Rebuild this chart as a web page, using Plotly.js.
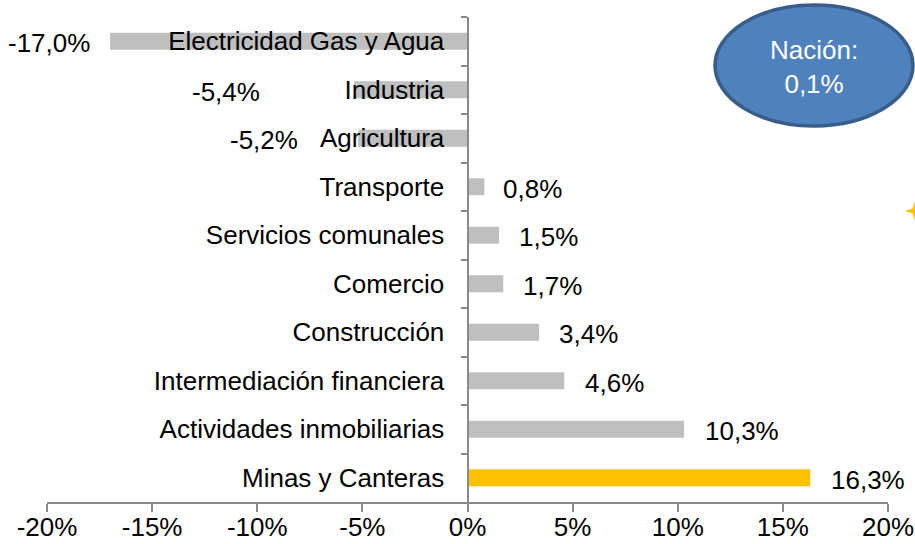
<!DOCTYPE html>
<html>
<head>
<meta charset="utf-8">
<script src="https://cdn.plot.ly/plotly-3.0.1.min.js"></script>
<style>html,body{margin:0;padding:0;background:#fff;}#chart{width:915px;height:544px;}</style>
</head>
<body>
<div id="chart"></div>
<script>
// Data (top to bottom as in the reference)
const categories = ['Electricidad Gas y Agua', 'Industria', 'Agricultura', 'Transporte',
  'Servicios comunales', 'Comercio', 'Construcción', 'Intermediación financiera',
  'Actividades inmobiliarias', 'Minas y Canteras'];
const values = [-17.0, -5.4, -5.2, 0.8, 1.5, 1.7, 3.4, 4.6, 10.3, 16.3];
const barColors = ['#BFBFBF', '#BFBFBF', '#BFBFBF', '#BFBFBF', '#BFBFBF', '#BFBFBF',
  '#BFBFBF', '#BFBFBF', '#BFBFBF', '#FFC000'];
const xTickVals = [-20, -15, -10, -5, 0, 5, 10, 15, 20];
const xTickText = ['-20%', '-15%', '-10%', '-5%', '0%', '5%', '10%', '15%', '20%'];
const nationLabel = 'Nación:';
const nationValue = 0.1;
// label offsets (px) for value labels; the negative ones were placed further left
const labelShift = [-18, -92, -58, 17, 18, 18, 18, 19, 19, 19];

const fmt = v => v.toFixed(1).replace('.', ',') + '%';
const FONT = 'Liberation Sans, Arial, sans-serif';
const FS = 26;

// plot area pixel geometry
const L = 47, R = 27, T = 17, B = 42, W = 915, H = 544;
const pw = W - L - R, ph = H - T - B;
const px = x => (x - L) / pw;
const py = y => (H - B - y) / ph;

const trace = {
  type: 'bar', orientation: 'h',
  x: values, y: categories,
  marker: {color: barColors},
  hoverinfo: 'skip', cliponaxis: false
};

const annotations = values.map((v, i) => ({
  x: v, y: categories[i], xref: 'x', yref: 'y',
  text: fmt(v), showarrow: false,
  xanchor: v < 0 ? 'right' : 'left',
  xshift: labelShift[i], yshift: -2,
  font: {family: FONT, size: FS, color: '#000'}
}));

// ellipse center
const ecx = 814, ecy = 67;
annotations.push({
  x: px(ecx), y: py(ecy), xref: 'paper', yref: 'paper',
  text: nationLabel + '<br>' + fmt(nationValue), showarrow: false,
  xanchor: 'center', yanchor: 'middle',
  font: {family: FONT, size: FS, color: '#FFFFFF'}
});

// small 4-point star decoration at right edge
const sx = 915, sy = 211, so = 10, si = 2.5;
const starPts = [[sx, sy - so], [sx + si, sy - si], [sx + so, sy], [sx + si, sy + si],
  [sx, sy + so], [sx - si, sy + si], [sx - so, sy], [sx - si, sy - si]];
const starPath = 'M' + starPts.map(p => px(p[0]).toFixed(5) + ',' + py(p[1]).toFixed(5)).join(' L') + ' Z';

const shapes = [
  {type: 'circle', xref: 'paper', yref: 'paper',
   x0: px(715), x1: px(913), y0: py(126), y1: py(5),
   fillcolor: '#4F81BD', line: {color: '#385D8A', width: 3.5}, layer: 'above'},
  {type: 'path', xref: 'paper', yref: 'paper', path: starPath,
   fillcolor: '#FFC000', line: {width: 0}, layer: 'above'}
];

const layout = {
  width: W, height: H,
  margin: {l: L, r: R, t: T, b: B, pad: 0},
  paper_bgcolor: '#fff', plot_bgcolor: '#fff',
  showlegend: false,
  bargap: 0.65,
  font: {family: FONT, size: FS, color: '#000'},
  xaxis: {
    range: [-20, 20], tickvals: xTickVals, ticktext: xTickText,
    showgrid: false, zeroline: false,
    showline: true, linecolor: '#898989', linewidth: 2,
    ticks: 'outside', ticklen: 8, tickwidth: 2, tickcolor: '#898989',
    ticklabelstandoff: -7,
    tickfont: {family: FONT, size: FS, color: '#000'},
    fixedrange: true
  },
  yaxis: {
    type: 'category', autorange: 'reversed',
    anchor: 'free', position: 0.5,
    showgrid: false, zeroline: false,
    showline: true, linecolor: '#898989', linewidth: 2,
    ticks: 'outside', tickson: 'boundaries', ticklen: 6, tickwidth: 2, tickcolor: '#898989',
    ticklabelstandoff: 17,
    tickfont: {family: FONT, size: FS, color: '#000'},
    fixedrange: true
  },
  annotations: annotations,
  shapes: shapes
};

Plotly.newPlot('chart', [trace], layout, {displayModeBar: false, staticPlot: true});
</script>
</body>
</html>
